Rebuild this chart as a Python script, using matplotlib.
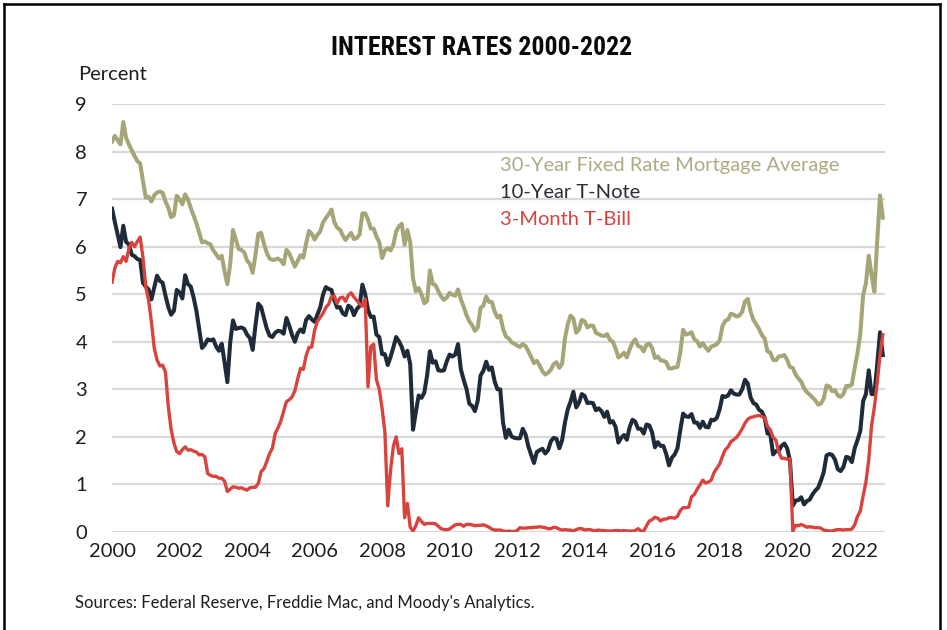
import numpy as np
import matplotlib
matplotlib.use("Agg")
import matplotlib.pyplot as plt
from matplotlib import font_manager as fm
from matplotlib.lines import Line2D

# Monthly series, January 2000 through November 2022 (percent)
mortgage_30y = [
    8.21, 8.33, 8.24, 8.15, 8.62, 8.29, 8.15, 8.03, 7.91, 7.80, 7.75, 7.38,
    7.03, 7.05, 6.95, 7.08, 7.14, 7.16, 7.13, 6.95, 6.82, 6.62, 6.66, 7.07,
    7.00, 6.89, 7.10, 6.99, 6.81, 6.65, 6.49, 6.29, 6.09, 6.11, 6.07, 6.05,
    5.92, 5.84, 5.75, 5.81, 5.48, 5.21, 5.63, 6.35, 6.15, 5.95, 5.93, 5.88,
    5.71, 5.64, 5.45, 5.83, 6.27, 6.29, 6.06, 5.87, 5.75, 5.72, 5.73, 5.75,
    5.71, 5.63, 5.93, 5.86, 5.72, 5.58, 5.70, 5.82, 5.77, 6.07, 6.33, 6.27,
    6.15, 6.25, 6.32, 6.51, 6.60, 6.68, 6.78, 6.52, 6.40, 6.36, 6.24, 6.14,
    6.22, 6.29, 6.16, 6.18, 6.26, 6.70, 6.70, 6.57, 6.38, 6.38, 6.21, 6.10,
    5.76, 5.92, 5.97, 5.92, 6.04, 6.32, 6.43, 6.48, 6.04, 6.35, 6.09, 5.33,
    5.06, 5.13, 5.00, 4.81, 4.86, 5.50, 5.22, 5.19, 5.06, 4.95, 4.88, 4.93,
    5.03, 4.99, 4.97, 5.10, 4.89, 4.74, 4.56, 4.43, 4.35, 4.23, 4.30, 4.71,
    4.76, 4.95, 4.84, 4.84, 4.64, 4.51, 4.55, 4.27, 4.11, 4.07, 3.99, 3.96,
    3.92, 3.89, 3.95, 3.91, 3.80, 3.68, 3.55, 3.60, 3.50, 3.38, 3.31, 3.35,
    3.41, 3.53, 3.57, 3.45, 3.54, 4.07, 4.37, 4.55, 4.49, 4.19, 4.26, 4.46,
    4.43, 4.30, 4.34, 4.34, 4.19, 4.16, 4.13, 4.12, 4.16, 4.04, 4.00, 3.86,
    3.67, 3.71, 3.77, 3.67, 3.84, 3.98, 4.05, 3.91, 3.89, 3.80, 3.94, 3.96,
    3.87, 3.66, 3.69, 3.61, 3.60, 3.57, 3.44, 3.44, 3.46, 3.47, 3.77, 4.25,
    4.15, 4.17, 4.20, 4.05, 4.01, 3.90, 3.97, 3.88, 3.81, 3.90, 3.92, 3.95,
    4.03, 4.33, 4.44, 4.47, 4.59, 4.57, 4.53, 4.55, 4.63, 4.85, 4.90, 4.64,
    4.46, 4.37, 4.27, 4.14, 4.07, 3.80, 3.77, 3.62, 3.61, 3.69, 3.70, 3.72,
    3.62, 3.47, 3.45, 3.31, 3.23, 3.16, 3.02, 2.94, 2.89, 2.83, 2.77, 2.68,
    2.70, 2.81, 3.08, 3.06, 2.96, 2.98, 2.87, 2.84, 2.90, 3.07, 3.07, 3.10,
    3.45, 3.76, 4.17, 4.98, 5.23, 5.81, 5.41, 5.05, 6.11, 7.08, 6.61,
]

treasury_10y = [
    6.80, 6.52, 6.26, 5.99, 6.44, 6.10, 6.05, 5.83, 5.80, 5.74, 5.72, 5.24,
    5.16, 5.10, 4.89, 5.14, 5.39, 5.28, 5.24, 4.97, 4.73, 4.57, 4.65, 5.09,
    5.04, 4.91, 5.40, 5.21, 5.16, 4.93, 4.65, 4.26, 3.87, 3.94, 4.05, 4.03,
    4.05, 3.90, 3.81, 3.96, 3.57, 3.15, 3.98, 4.45, 4.27, 4.29, 4.30, 4.27,
    4.15, 4.08, 3.83, 4.35, 4.80, 4.73, 4.50, 4.28, 4.13, 4.10, 4.19, 4.23,
    4.22, 4.17, 4.50, 4.34, 4.14, 4.00, 4.18, 4.26, 4.20, 4.46, 4.54, 4.47,
    4.42, 4.57, 4.72, 4.99, 5.15, 5.11, 5.09, 4.88, 4.72, 4.73, 4.60, 4.56,
    4.76, 4.72, 4.56, 4.69, 4.75, 5.20, 5.00, 4.67, 4.52, 4.53, 4.15, 4.10,
    3.74, 3.74, 3.51, 3.68, 3.88, 4.10, 4.01, 3.89, 3.69, 3.81, 3.53, 2.15,
    2.52, 2.87, 2.82, 2.93, 3.29, 3.80, 3.56, 3.59, 3.40, 3.39, 3.40, 3.59,
    3.73, 3.69, 3.73, 3.95, 3.42, 3.20, 3.01, 2.70, 2.65, 2.54, 2.76, 3.29,
    3.39, 3.58, 3.41, 3.46, 3.17, 3.00, 3.00, 2.30, 1.98, 2.15, 2.01, 1.98,
    1.97, 1.97, 2.17, 2.05, 1.80, 1.62, 1.45, 1.68, 1.72, 1.75, 1.65, 1.72,
    1.91, 1.98, 1.96, 1.76, 1.93, 2.30, 2.58, 2.74, 2.95, 2.62, 2.72, 2.90,
    2.86, 2.71, 2.72, 2.71, 2.56, 2.60, 2.54, 2.42, 2.53, 2.30, 2.33, 2.21,
    1.88, 1.98, 2.04, 1.94, 2.20, 2.36, 2.32, 2.17, 2.17, 2.07, 2.26, 2.24,
    2.09, 1.78, 1.89, 1.81, 1.81, 1.64, 1.40, 1.56, 1.63, 1.76, 2.14, 2.49,
    2.43, 2.42, 2.48, 2.30, 2.30, 2.19, 2.32, 2.21, 2.20, 2.36, 2.35, 2.40,
    2.58, 2.86, 2.84, 2.87, 2.98, 2.91, 2.89, 2.89, 3.00, 3.20, 3.12, 2.83,
    2.71, 2.68, 2.57, 2.53, 2.40, 2.07, 2.06, 1.63, 1.70, 1.71, 1.81, 1.86,
    1.76, 1.50, 0.55, 0.66, 0.67, 0.73, 0.58, 0.65, 0.68, 0.79, 0.87, 0.93,
    1.08, 1.26, 1.61, 1.64, 1.62, 1.52, 1.32, 1.28, 1.37, 1.58, 1.56, 1.47,
    1.76, 1.93, 2.13, 2.75, 2.90, 3.40, 2.90, 2.90, 3.52, 4.20, 3.72,
]

tbill_3m = [
    5.25, 5.55, 5.69, 5.66, 5.79, 5.69, 5.96, 6.09, 6.00, 6.11, 6.20, 5.77,
    5.15, 4.88, 4.42, 3.87, 3.62, 3.49, 3.51, 3.36, 2.64, 2.16, 1.87, 1.69,
    1.65, 1.73, 1.79, 1.72, 1.73, 1.70, 1.68, 1.62, 1.63, 1.58, 1.23, 1.19,
    1.17, 1.17, 1.13, 1.13, 1.07, 0.85, 0.90, 0.95, 0.94, 0.92, 0.93, 0.90,
    0.88, 0.93, 0.94, 0.94, 1.02, 1.27, 1.33, 1.48, 1.65, 1.76, 2.07, 2.19,
    2.33, 2.54, 2.74, 2.78, 2.84, 2.97, 3.22, 3.44, 3.42, 3.71, 3.88, 3.89,
    4.24, 4.43, 4.51, 4.60, 4.72, 4.79, 4.95, 4.96, 4.81, 4.92, 4.94, 4.85,
    4.98, 5.03, 4.94, 4.87, 4.80, 4.75, 4.90, 3.05, 3.90, 3.95, 3.20, 3.00,
    2.60, 2.10, 0.55, 1.30, 1.80, 2.00, 1.65, 1.75, 0.30, 0.60, 0.10, 0.02,
    0.13, 0.30, 0.22, 0.16, 0.18, 0.18, 0.18, 0.17, 0.12, 0.07, 0.05, 0.05,
    0.06, 0.11, 0.15, 0.16, 0.16, 0.12, 0.16, 0.16, 0.15, 0.13, 0.14, 0.14,
    0.15, 0.13, 0.10, 0.06, 0.04, 0.04, 0.04, 0.02, 0.01, 0.02, 0.01, 0.01,
    0.03, 0.09, 0.08, 0.08, 0.09, 0.09, 0.10, 0.10, 0.11, 0.10, 0.09, 0.07,
    0.07, 0.10, 0.09, 0.06, 0.04, 0.05, 0.04, 0.04, 0.02, 0.05, 0.07, 0.07,
    0.04, 0.05, 0.05, 0.03, 0.03, 0.04, 0.03, 0.03, 0.02, 0.02, 0.02, 0.03,
    0.03, 0.02, 0.03, 0.02, 0.02, 0.02, 0.03, 0.07, 0.02, 0.02, 0.13, 0.23,
    0.26, 0.31, 0.29, 0.23, 0.27, 0.27, 0.30, 0.30, 0.29, 0.33, 0.45, 0.51,
    0.51, 0.52, 0.74, 0.79, 0.90, 0.99, 1.09, 1.03, 1.05, 1.09, 1.25, 1.34,
    1.43, 1.59, 1.73, 1.79, 1.90, 1.94, 1.99, 2.07, 2.17, 2.29, 2.37, 2.41,
    2.42, 2.44, 2.45, 2.43, 2.40, 2.22, 2.15, 1.99, 1.93, 1.68, 1.55, 1.55,
    1.53, 1.54, 0.02, 0.14, 0.13, 0.16, 0.13, 0.10, 0.11, 0.10, 0.09, 0.09,
    0.08, 0.04, 0.03, 0.02, 0.02, 0.04, 0.05, 0.05, 0.04, 0.05, 0.05, 0.06,
    0.15, 0.33, 0.44, 0.76, 1.05, 1.52, 2.23, 2.63, 3.13, 3.72, 4.15,
]

series_labels = ["30-Year Fixed Rate Mortgage Average", "10-Year T-Note", "3-Month T-Bill"]
year_ticks = list(range(2000, 2023, 2))
percent_ticks = list(range(0, 10))

col_mortgage = "#a6a578"
col_note = "#1f2b38"
col_bill = "#d8433d"

# Pick a narrow bold face for the title when one is installed
installed = {f.name for f in fm.fontManager.ttflist}
if "Liberation Sans Narrow" in installed:
    title_font = dict(family="Liberation Sans Narrow", fontsize=19.5)
elif "Roboto Condensed" in installed:
    title_font = dict(family="Roboto Condensed", fontsize=18.6)
else:
    title_font = dict(family="Roboto", fontsize=17.5)

plt.rcParams["font.family"] = ["Lato", "DejaVu Sans"]

fig = plt.figure(figsize=(9.47, 6.30), dpi=100)
ax = fig.add_axes([0.1183, 0.1556, 0.8163, 0.6793])

months = np.arange(len(mortgage_30y))
t = 2000 + months / 12.0

ax.plot(t, mortgage_30y, color=col_mortgage, lw=2.9, solid_joinstyle="round")
ax.plot(t, treasury_10y, color=col_note, lw=2.9, solid_joinstyle="round")
ax.plot(t, tbill_3m, color=col_bill, lw=2.4, solid_joinstyle="round")

ax.set_xlim(2000, 2022.9)
ax.set_ylim(0, 9)
ax.set_yticks(percent_ticks)
ax.set_xticks(year_ticks)
ax.set_xticklabels([str(y) for y in year_ticks])
ax.tick_params(axis="both", length=0, labelsize=14.5, colors="#1e1e1e")
ax.tick_params(axis="y", pad=18)
ax.tick_params(axis="x", pad=8)
ax.grid(axis="y", color="#d9d9d9", lw=1.6)
ax.set_axisbelow(True)
for s in ax.spines.values():
    s.set_visible(False)

# Coloured text legend
for label, col, yy in zip(series_labels, ["#aeac84", "#2a2f36", col_bill],
                          [0.857, 0.794, 0.731]):
    ax.text(0.502, yy, label, transform=ax.transAxes, color=col,
            fontsize=14.5, ha="left", va="center")

fig.text(0.508, 0.924, "INTEREST RATES 2000-2022", ha="center", va="center",
         fontweight="bold", color="#0a0a0a", **title_font)
fig.text(0.0824, 0.881, "Percent", ha="left", va="center", fontsize=14.5,
         color="#1e1e1e")
fig.text(0.079, 0.043, "Sources: Federal Reserve, Freddie Mac, and Moody's Analytics.",
         ha="left", va="center", fontsize=12, color="#1e1e1e")

# Frame around the figure (open at the bottom)
x0, x1 = 3.5 / 947, 940 / 947
y1 = 1 - 3.5 / 630
for xs, ys in [([x0, x0], [0, y1]), ([x0, x1], [y1, y1]), ([x1, x1], [y1, 0])]:
    fig.add_artist(Line2D(xs, ys, transform=fig.transFigure, color="black", lw=1.8))

fig.savefig("out.png", dpi=100, facecolor="white")
